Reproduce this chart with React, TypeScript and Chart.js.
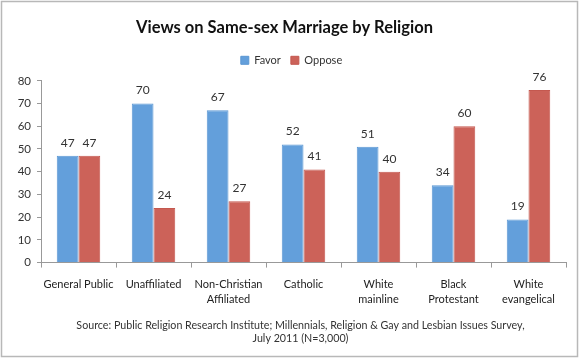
import React, { useEffect, useRef } from "react";
import { Chart, registerables } from "chart.js";

Chart.register(...registerables);

const categories: (string | string[])[] = [
  "General Public",
  "Unaffiliated",
  ["Non-Christian", "Affiliated"],
  "Catholic",
  ["White", "mainline"],
  ["Black", "Protestant"],
  ["White", "evangelical"],
];
const favor = [47, 70, 67, 52, 51, 34, 19];
const oppose = [47, 24, 27, 41, 40, 60, 76];
const yTicks = [0, 10, 20, 30, 40, 50, 60, 70, 80];
const titleText = "Views on Same-sex Marriage by Religion";
const sourceLines = [
  "Source: Public Religion Research Institute; Millennials, Religion & Gay and Lesbian Issues Survey,",
  "July 2011 (N=3,000)",
];

const FONT = "Lato, 'Open Sans', sans-serif";

const frame = {
  id: "frame",
  beforeDraw(chart: any) {
    const c = chart.ctx;
    c.save();
    c.fillStyle = "#fff";
    c.fillRect(0, 0, chart.width, chart.height);
    c.strokeStyle = "#b8b8b8";
    c.lineWidth = 1.5;
    c.strokeRect(1.5, 1.5, chart.width - 4, chart.height - 4);
    c.restore();
  },
};

const legendSpace = {
  id: "legendSpace",
  beforeInit(chart: any) {
    const orig = chart.legend.fit;
    chart.legend.fit = function () {
      orig.call(this);
      this.height += 5;
    };
  },
  afterLayout(chart: any) {
    chart.legend.left += 7;
    chart.legend.right += 7;
    const sub = chart.boxes.find((b: any) => b !== chart.titleBlock && b.options && b.options.position === "bottom" && b.constructor && b.constructor.name !== "LinearScale" && !b.axis && b !== chart.legend);
    if (sub) {
      sub.left += 16;
      sub.right += 16;
    }
  },
};

const valueLabels = {
  id: "valueLabels",
  afterDatasetsDraw(chart: any) {
    const c = chart.ctx;
    c.save();
    c.font = `12px ${FONT}`;
    c.fillStyle = "#333";
    c.textAlign = "center";
    c.textBaseline = "bottom";
    chart.data.datasets.forEach((ds: any, i: number) => {
      const meta = chart.getDatasetMeta(i);
      meta.data.forEach((bar: any, j: number) => {
        c.fillText(String(ds.data[j]), bar.x, bar.y - 7);
      });
    });
    c.restore();
  },
};

export default function App() {
  const ref = useRef<HTMLCanvasElement>(null);
  useEffect(() => {
    document.body.style.margin = "0";
    const chart = new Chart(ref.current!, {
      type: "bar",
      data: {
        labels: categories,
        datasets: [
          {
            label: "Favor",
            data: favor,
            backgroundColor: "#639fdb",
            borderColor: "#5b97d3",
            borderWidth: 1,
          },
          {
            label: "Oppose",
            data: oppose,
            backgroundColor: "#cc6259",
            borderColor: "#c4584f",
            borderWidth: 1,
          },
        ],
      },
      options: {
        animation: false,
        responsive: false,
        layout: { padding: { left: 3, right: 14, top: 15, bottom: 13 } },
        datasets: {
          bar: { categoryPercentage: 0.58, barPercentage: 1 },
        },
        plugins: {
          title: {
            display: true,
            text: titleText,
            color: "#111",
            font: { family: FONT, size: 16.5, weight: "bold" },
            padding: { top: 3, bottom: 7 },
          },
          legend: {
            display: true,
            labels: {
              boxWidth: 8,
              boxHeight: 8,
              color: "#333",
              font: { family: FONT, size: 11 },
              padding: 10,
            },
          },
          subtitle: {
            display: true,
            position: "bottom",
            text: sourceLines,
            color: "#333",
            font: { family: FONT, size: 10.7, lineHeight: 1.3 },
            padding: { top: 2, bottom: 0 },
          },
          tooltip: { enabled: false },
        },
        scales: {
          x: {
            grid: {
              display: true,
              drawOnChartArea: false,
              drawTicks: true,
              tickLength: 5,
              color: "#999",
              offset: true,
            },
            border: { color: "#999" },
            ticks: {
              color: "#222",
              font: { family: FONT, size: 11, lineHeight: 1.3 },
              maxRotation: 0,
              autoSkip: false,
              padding: 10,
            },
          },
          y: {
            min: 0,
            max: 80,
            afterBuildTicks(axis: any) {
              axis.ticks = yTicks.map((v) => ({ value: v }));
            },
            afterFit(axis: any) {
              axis.width = 38;
            },
            grid: {
              display: true,
              drawOnChartArea: false,
              drawTicks: true,
              tickLength: 4,
              color: "#999",
            },
            border: { color: "#999" },
            ticks: {
              color: "#333",
              font: { family: FONT, size: 11.5 },
              padding: 6,
            },
          },
        },
      },
      plugins: [frame, legendSpace, valueLabels],
    } as any);
    return () => chart.destroy();
  }, []);
  return (
    <div style={{ position: "absolute", left: 0, top: 0, width: 580, height: 359 }}>
      <canvas ref={ref} width={580} height={359} />
    </div>
  );
}
